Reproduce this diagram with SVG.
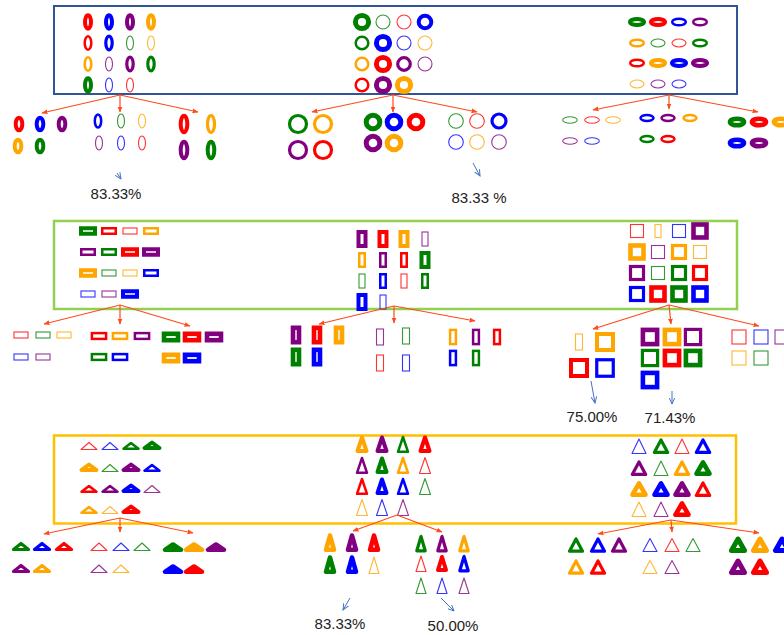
<svg xmlns="http://www.w3.org/2000/svg" width="784" height="635" viewBox="0 0 784 635">
<style>
ellipse,circle,rect,polygon{fill:none}
polygon{stroke-linejoin:round}
.R{stroke:#ff0000}.B{stroke:#0000ff}.P{stroke:#800080}.O{stroke:#ffa500}.G{stroke:#008000}
.a{stroke-width:1.1;stroke-opacity:.8}.b{stroke-width:2.5}.b3{stroke-width:3.2}.c{stroke-width:4}.d{stroke-width:4.6}.e{stroke-width:5}
.con{stroke:#ff4a1c;stroke-width:1.2;fill:none}
.blu{stroke:#4472c4;stroke-width:1;fill:none}
.lbl{font-family:"Liberation Sans",Arial,sans-serif;font-size:15px;fill:#222;text-anchor:middle}
</style>
<defs>
<marker id="ah" viewBox="0 0 10 10" refX="9" refY="5" markerWidth="5" markerHeight="5" orient="auto"><path d="M0,1 L10,5 L0,9 Z" fill="#ff4a1c"/></marker>
<marker id="bh" viewBox="0 0 10 10" refX="9" refY="5" markerWidth="7" markerHeight="7" orient="auto"><path d="M0,1 L9,5 L0,9" fill="none" stroke="#4472c4" stroke-width="1.4"/></marker>
</defs>

<!-- TOP BOX -->
<g id="box-top">
<rect x="54" y="6" width="683" height="88" fill="#fff" stroke="#2f5597" stroke-width="2"/>
<g id="top-ellipses">
<ellipse cx="88" cy="22" rx="3" ry="6.8" class="R c"/><ellipse cx="109" cy="22" rx="3" ry="6.8" class="B c"/><ellipse cx="130" cy="22" rx="3" ry="6.8" class="P c"/><ellipse cx="151" cy="22" rx="3" ry="6.8" class="O c"/>
<ellipse cx="88" cy="43" rx="3.3" ry="6.8" class="R b"/><ellipse cx="109" cy="43" rx="3.2" ry="6.8" class="B b3"/><ellipse cx="130" cy="43" rx="3.5" ry="7" class="G a"/><ellipse cx="151" cy="43" rx="3.5" ry="7" class="O a"/>
<ellipse cx="88" cy="64" rx="3.3" ry="6.8" class="O b"/><ellipse cx="109" cy="64" rx="3.5" ry="7" class="P a"/><ellipse cx="130" cy="64" rx="3.2" ry="6.8" class="P b3"/><ellipse cx="151" cy="64" rx="3.2" ry="6.8" class="G b3"/>
<ellipse cx="88" cy="85" rx="3" ry="6.8" class="G c"/><ellipse cx="109" cy="85" rx="3.5" ry="7" class="B a"/><ellipse cx="130" cy="85" rx="3.5" ry="7" class="R a"/>
</g>
<g id="top-circles">
<circle cx="362" cy="22" r="6.6" class="G e"/><circle cx="383" cy="22" r="7" class="G a"/><circle cx="404" cy="22" r="7" class="R a"/><circle cx="425" cy="22" r="6.3" class="B c"/>
<circle cx="362" cy="43" r="6.3" class="G b"/><circle cx="383" cy="43" r="6.6" class="B e"/><circle cx="404" cy="43" r="7" class="B a"/><circle cx="425" cy="43" r="7" class="O a"/>
<circle cx="362" cy="64" r="6.3" class="O b"/><circle cx="383" cy="64" r="6.6" class="R e"/><circle cx="404" cy="64" r="6.3" class="P b3"/><circle cx="425" cy="64" r="7" class="P a"/>
<circle cx="362" cy="85" r="6.3" class="R b"/><circle cx="383" cy="85" r="6.6" class="P e"/><circle cx="404" cy="85" r="6.6" class="O e"/>
</g>
<g id="top-flat-ellipses">
<ellipse cx="637" cy="22" rx="7" ry="3" class="G c"/><ellipse cx="658" cy="22" rx="7" ry="3" class="R c"/><ellipse cx="679" cy="22" rx="6.8" ry="3.3" class="B b"/><ellipse cx="700" cy="22" rx="6.8" ry="3.3" class="P b"/>
<ellipse cx="637" cy="43" rx="6.8" ry="3.3" class="O b"/><ellipse cx="658" cy="43" rx="7" ry="4" class="G a"/><ellipse cx="679" cy="43" rx="7" ry="4" class="R a"/><ellipse cx="700" cy="43" rx="6.8" ry="3.3" class="G b"/>
<ellipse cx="637" cy="63" rx="6.8" ry="3.3" class="R b"/><ellipse cx="658" cy="63" rx="7" ry="3" class="O c"/><ellipse cx="679" cy="63" rx="7" ry="3" class="B c"/><ellipse cx="700" cy="63" rx="7" ry="3" class="P c"/>
<ellipse cx="637" cy="84" rx="7" ry="4" class="O a"/><ellipse cx="658" cy="84" rx="7" ry="4" class="P a"/><ellipse cx="679" cy="84" rx="7" ry="4" class="B a"/>
</g>
</g>

<!-- below top -->
<g id="top-sub-1a">
<ellipse cx="19" cy="124" rx="3.3" ry="6.3" class="R c"/><ellipse cx="40" cy="124" rx="3.3" ry="6.3" class="B c"/><ellipse cx="62" cy="124" rx="3.3" ry="6.3" class="P c"/>
<ellipse cx="18" cy="146" rx="3.3" ry="6.3" class="O c"/><ellipse cx="40" cy="146" rx="3.3" ry="6.3" class="G c"/>
</g>
<g id="top-sub-1b">
<ellipse cx="98" cy="121" rx="3.2" ry="6.5" class="B b"/><ellipse cx="121" cy="121" rx="3.5" ry="7" class="G a"/><ellipse cx="142" cy="121" rx="3.5" ry="7" class="O a"/>
<ellipse cx="99" cy="143" rx="3.5" ry="7" class="P a"/><ellipse cx="121" cy="143" rx="3.5" ry="7" class="B a"/><ellipse cx="142" cy="143" rx="3.5" ry="7" class="R a"/>
</g>
<g id="top-sub-1c">
<ellipse cx="184" cy="124" rx="3.3" ry="8.3" class="R c"/><ellipse cx="211" cy="124" rx="3.5" ry="8.5" class="O b3"/>
<ellipse cx="184" cy="150" rx="3.3" ry="8.3" class="P c"/><ellipse cx="211" cy="150" rx="3.3" ry="8.3" class="G c"/>
</g>
<g id="top-sub-2a">
<circle cx="298" cy="124" r="8.5" class="G b3"/><circle cx="323" cy="124" r="8.5" class="O b3"/>
<circle cx="298" cy="150" r="8.5" class="P b3"/><circle cx="323" cy="150" r="8.5" class="R b3"/>
</g>
<g id="top-sub-2b">
<circle cx="373" cy="122" r="6.8" class="G e"/><circle cx="394" cy="122" r="6.8" class="B e"/><circle cx="416" cy="122" r="6.8" class="R e"/>
<circle cx="373" cy="143" r="6.8" class="P e"/><circle cx="394" cy="143" r="6.8" class="O e"/>
</g>
<g id="top-sub-2c">
<circle cx="456" cy="121" r="7.3" class="G a"/><circle cx="477" cy="121" r="7.3" class="R a"/><circle cx="499" cy="121" r="7" class="B b3"/>
<circle cx="456" cy="142" r="7.3" class="B a"/><circle cx="477" cy="142" r="7.3" class="O a"/><circle cx="499" cy="142" r="7.3" class="P a"/>
</g>
<g id="top-sub-3a">
<ellipse cx="570" cy="120" rx="7.3" ry="3.3" class="G a"/><ellipse cx="592" cy="120" rx="7.3" ry="3.3" class="R a"/><ellipse cx="613" cy="120" rx="7.3" ry="3.3" class="O a"/>
<ellipse cx="570" cy="141" rx="7.3" ry="3.3" class="P a"/><ellipse cx="592" cy="141" rx="7.3" ry="3.3" class="B a"/>
</g>
<g id="top-sub-3b">
<ellipse cx="647" cy="118" rx="6.5" ry="3" class="B b"/><ellipse cx="668" cy="118" rx="6.5" ry="3" class="P b"/><ellipse cx="690" cy="118" rx="6.5" ry="3" class="O b"/>
<ellipse cx="647" cy="139" rx="6.5" ry="3" class="G b"/><ellipse cx="668" cy="139" rx="6.5" ry="3" class="R b"/>
</g>
<g id="top-sub-3c">
<ellipse cx="737" cy="122" rx="7" ry="3.3" class="G d"/><ellipse cx="759" cy="122" rx="7" ry="3.3" class="R d"/><ellipse cx="781" cy="122" rx="7" ry="3.3" class="O d"/>
<ellipse cx="737" cy="143" rx="7" ry="3.3" class="B d"/><ellipse cx="759" cy="143" rx="7" ry="3.3" class="P d"/>
</g>

<!-- MIDDLE BOX -->
<g id="box-mid">
<rect x="54" y="221" width="683" height="88" fill="#fff" stroke="#92d050" stroke-width="2.5"/>
<g id="mid-hrects">
<rect x="81" y="228.25" width="14" height="5.5" class="G c"/><rect x="102.25" y="228.25" width="13.5" height="5.5" class="R b"/><rect x="123" y="228" width="14" height="6" class="R a"/><rect x="144.25" y="228.25" width="13.5" height="5.5" class="O b"/>
<rect x="81.25" y="249.25" width="13.5" height="5.5" class="P b"/><rect x="102.25" y="249.25" width="13.5" height="5.5" class="G b"/><rect x="123" y="249.25" width="14" height="5.5" class="R c"/><rect x="144" y="249.25" width="14" height="5.5" class="P c"/>
<rect x="81" y="270.25" width="14" height="5.5" class="O c"/><rect x="102" y="270" width="14" height="6" class="G a"/><rect x="123" y="270" width="14" height="6" class="O a"/><rect x="144.25" y="270.25" width="13.5" height="5.5" class="B b"/>
<rect x="81" y="291" width="14" height="6" class="B a"/><rect x="102" y="291" width="14" height="6" class="P a"/><rect x="123" y="291.25" width="14" height="5.5" class="B c"/>
</g>
<g id="mid-vrects">
<rect x="358.5" y="232" width="7" height="14" class="P c"/><rect x="379.5" y="232" width="7" height="14" class="R c"/><rect x="400.5" y="232" width="7" height="14" class="O c"/><rect x="422" y="232" width="6" height="14" class="P a"/>
<rect x="359.25" y="253.25" width="5.5" height="13.5" class="O b"/><rect x="380.25" y="253.25" width="5.5" height="13.5" class="P b"/><rect x="401.25" y="253.25" width="5.5" height="13.5" class="R b"/><rect x="421.5" y="253" width="7" height="14" class="G c"/>
<rect x="359" y="274" width="6" height="14" class="G a"/><rect x="380.25" y="274.25" width="5.5" height="13.5" class="B b"/><rect x="401" y="274" width="6" height="14" class="R a"/><rect x="422.25" y="274.25" width="5.5" height="13.5" class="G b"/>
<rect x="358.5" y="295" width="7" height="14" class="B c"/><rect x="380" y="295" width="6" height="14" class="B a"/>
</g>
<g id="mid-squares">
<rect x="630.5" y="224.5" width="13" height="13" class="R a"/><rect x="655" y="224.5" width="6" height="13" class="O a"/><rect x="672.5" y="224.5" width="13" height="13" class="B a"/><rect x="693.5" y="224.5" width="13" height="13" class="P d"/>
<rect x="630.5" y="245.5" width="13" height="13" class="O d"/><rect x="651.5" y="245.5" width="13" height="13" class="P a"/><rect x="672.5" y="245.5" width="13" height="13" class="O b3"/><rect x="693.5" y="245.5" width="13" height="13" class="O a"/>
<rect x="630.5" y="266.5" width="13" height="13" class="P b3"/><rect x="651.5" y="266.5" width="13" height="13" class="G a"/><rect x="672.5" y="266.5" width="13" height="13" class="G b3"/><rect x="693.5" y="266.5" width="13" height="13" class="R b3"/>
<rect x="630.5" y="287.5" width="13" height="13" class="B b3"/><rect x="651.5" y="287.5" width="13" height="13" class="R d"/><rect x="672.5" y="287.5" width="13" height="13" class="G d"/><rect x="693.5" y="287.5" width="13" height="13" class="B d"/>
</g>
</g>

<!-- below middle -->
<g id="mid-sub-1a">
<rect x="14" y="332" width="14" height="6" class="R a"/><rect x="36" y="332" width="14" height="6" class="G a"/><rect x="57" y="332" width="14" height="6" class="O a"/>
<rect x="14" y="354" width="14" height="6" class="B a"/><rect x="36" y="354" width="14" height="6" class="P a"/>
</g>
<g id="mid-sub-1b">
<rect x="91.9" y="333.1" width="14.2" height="5.8" class="R b"/><rect x="112.9" y="333.1" width="14.2" height="5.8" class="O b"/><rect x="134.9" y="333.1" width="14.2" height="5.8" class="P b"/>
<rect x="91.9" y="354.1" width="14.2" height="5.8" class="G b"/><rect x="112.9" y="354.1" width="14.2" height="5.8" class="B b"/>
</g>
<g id="mid-sub-1c">
<rect x="164" y="333.8" width="14" height="6.4" class="G d"/><rect x="185" y="333.8" width="14" height="6.4" class="R d"/><rect x="207" y="333.8" width="14" height="6.4" class="P d"/>
<rect x="164" y="354.8" width="14" height="6.4" class="O d"/><rect x="185" y="354.8" width="14" height="6.4" class="B d"/>
</g>
<g id="mid-sub-2a">
<rect x="293" y="327.8" width="6" height="14.4" class="P d"/><rect x="314" y="327.8" width="6" height="14.4" class="R d"/><rect x="336" y="327.8" width="6" height="14.4" class="O d"/>
<rect x="293" y="349.8" width="6" height="14.4" class="G d"/><rect x="314" y="349.8" width="6" height="14.4" class="B d"/>
</g>
<g id="mid-sub-2b">
<rect x="376.5" y="329" width="7" height="16" class="P a"/><rect x="402.5" y="328" width="7" height="16" class="G a"/>
<rect x="376.5" y="355" width="7" height="16" class="R a"/><rect x="402.5" y="355" width="7" height="16" class="B a"/>
</g>
<g id="mid-sub-2c">
<rect x="450.1" y="329.9" width="5.8" height="14.2" class="O b"/><rect x="473.1" y="329.9" width="5.8" height="14.2" class="P b"/><rect x="494.1" y="329.9" width="5.8" height="14.2" class="R b"/>
<rect x="450.1" y="350.9" width="5.8" height="14.2" class="B b"/><rect x="473.1" y="350.9" width="5.8" height="14.2" class="G b"/>
</g>
<g id="mid-sub-3a">
<rect x="575.5" y="334" width="7" height="16" class="O a"/><rect x="597" y="334" width="16" height="16" class="O c"/>
<rect x="571" y="360" width="16" height="16" class="R c"/><rect x="596.75" y="359.75" width="16.5" height="16.5" class="B b3"/>
</g>
<g id="mid-sub-3b">
<rect x="642.9" y="329.9" width="14.2" height="14.2" class="P d"/><rect x="664.9" y="329.9" width="14.2" height="14.2" class="O d"/><rect x="685.4" y="329.4" width="15.2" height="15.2" class="P b3"/>
<rect x="642.4" y="350.4" width="15.2" height="15.2" class="G b3"/><rect x="664.9" y="350.9" width="14.2" height="14.2" class="R d"/><rect x="685.9" y="350.9" width="14.2" height="14.2" class="G d"/>
<rect x="642.9" y="372.9" width="14.2" height="14.2" class="B d"/>
</g>
<g id="mid-sub-3c">
<rect x="732" y="330" width="14" height="14" class="R a"/><rect x="754" y="330" width="14" height="14" class="B a"/><rect x="775" y="330" width="14" height="14" class="P a"/>
<rect x="732" y="351" width="14" height="14" class="O a"/><rect x="754" y="351" width="14" height="14" class="G a"/>
</g>

<!-- BOTTOM BOX -->
<g id="box-bot">
<rect x="54" y="435.5" width="682" height="88" fill="#fff" stroke="#ffc000" stroke-width="2.5"/>
<g id="bot-flat-tri">
<polygon points="81,449.5 97,449.5 89,442.5" class="R a"/><polygon points="102,449.5 118,449.5 110,442.5" class="B a"/><polygon points="123.5,448.8 138.5,448.8 131,443" class="G b"/><polygon points="144.5,448 159.5,448 152,442.5" class="G c"/>
<polygon points="81.5,470 96.5,470 89,464.5" class="O c"/><polygon points="102,471.5 118,471.5 110,464.5" class="G a"/><polygon points="123.5,470 138.5,470 131,464.5" class="P c"/><polygon points="144.5,470.8 159.5,470.8 152,465" class="B b"/>
<polygon points="81.5,491.8 96.5,491.8 89,486" class="R b"/><polygon points="102.5,491.8 117.5,491.8 110,486" class="P b"/><polygon points="123.5,491 138.5,491 131,485.5" class="B c"/><polygon points="144,492.5 160,492.5 152,485.5" class="P a"/>
<polygon points="81.5,512.8 96.5,512.8 89,507" class="O b"/><polygon points="102,513.5 118,513.5 110,506.5" class="O a"/><polygon points="123.5,512 138.5,512 131,506.5" class="R c"/>
</g>
<g id="bot-tall-tri">
<polygon points="357.5,451 366.5,451 362,437.5" class="O c"/><polygon points="377.5,451 386.5,451 382,437.5" class="P c"/><polygon points="398,451.8 408,451.8 403,437" class="G b"/><polygon points="420.5,451 429.5,451 425,437.5" class="R c"/>
<polygon points="357,472.8 367,472.8 362,458" class="P b"/><polygon points="377.5,472 386.5,472 382,458.5" class="G c"/><polygon points="398,472.8 408,472.8 403,458" class="O b"/><polygon points="419.5,473.5 430.5,473.5 425,457.5" class="R a"/>
<polygon points="357,493.8 367,493.8 362,479" class="R b"/><polygon points="377.5,493 386.5,493 382,479.5" class="B c"/><polygon points="398,493.8 408,493.8 403,479" class="B b"/><polygon points="419.5,494.5 430.5,494.5 425,478.5" class="G a"/>
<polygon points="356.5,515.5 367.5,515.5 362,499.5" class="O a"/><polygon points="376.5,515.5 387.5,515.5 382,499.5" class="B a"/><polygon points="397.5,515.5 408.5,515.5 403,499.5" class="P a"/>
</g>
<g id="bot-eq-tri">
<polygon points="632,453.5 646,453.5 639,439" class="B a"/><polygon points="654.3,452.4 667.7,452.4 661,440" class="G b3"/><polygon points="675,453.5 689,453.5 682,439" class="R a"/><polygon points="696.3,452.4 709.7,452.4 703,440" class="B b3"/>
<polygon points="632.3,474.4 645.7,474.4 639,462" class="P b3"/><polygon points="654,475.5 668,475.5 661,461" class="G a"/><polygon points="675.3,474.4 688.7,474.4 682,462" class="O b3"/><polygon points="696.5,473.7 709.5,473.7 703,462.5" class="G d"/>
<polygon points="632.5,494.7 645.5,494.7 639,483.5" class="O d"/><polygon points="654.5,494.7 667.5,494.7 661,483.5" class="B d"/><polygon points="675.5,494.7 688.5,494.7 682,483.5" class="P d"/><polygon points="696.3,495.4 709.7,495.4 703,483" class="R b3"/>
<polygon points="632,516.5 646,516.5 639,502" class="O a"/><polygon points="654,516.5 668,516.5 661,502" class="P a"/><polygon points="675.5,514.7 688.5,514.7 682,503.5" class="R d"/>
</g>
</g>

<!-- below bottom -->
<g id="bot-sub-1a">
<polygon points="13.5,549.5 28.5,549.5 21,543.5" class="G b3"/><polygon points="34.5,549.5 49.5,549.5 42,543.5" class="B b3"/><polygon points="56.5,549.5 71.5,549.5 64,543.5" class="R b3"/>
<polygon points="13.5,571.5 28.5,571.5 21,565.5" class="P b3"/><polygon points="34.5,571.5 49.5,571.5 42,565.5" class="O b3"/>
</g>
<g id="bot-sub-1b">
<polygon points="91,550.5 107,550.5 99,543" class="R a"/><polygon points="113,550.5 129,550.5 121,543" class="B a"/><polygon points="134,550.5 150,550.5 142,543" class="G a"/>
<polygon points="91,572.5 107,572.5 99,565" class="P a"/><polygon points="113,572.5 129,572.5 121,565" class="O a"/>
</g>
<g id="bot-sub-1c">
<polygon points="165,549.8 181,549.8 173,544.5" class="G d"/><polygon points="186,549.8 202,549.8 194,544.5" class="O d"/><polygon points="208,549.8 224,549.8 216,544.5" class="P d"/>
<polygon points="165,571.8 181,571.8 173,566.5" class="B d"/><polygon points="186,571.8 202,571.8 194,566.5" class="R d"/>
</g>
<g id="bot-sub-2a">
<polygon points="326,549.8 334,549.8 330,535.5" class="O d"/><polygon points="348,549.8 356,549.8 352,535.5" class="P d"/><polygon points="370,549.8 378,549.8 374,535.5" class="R d"/>
<polygon points="326,571.8 334,571.8 330,557.5" class="G d"/><polygon points="348,571.8 356,571.8 352,557.5" class="B d"/><polygon points="369,573.5 379,573.5 374,557" class="O a"/>
</g>
<g id="bot-sub-2b">
<polygon points="416.8,550.8 425.2,550.8 421,536.5" class="G b3"/><polygon points="437.8,550.8 446.2,550.8 442,536.5" class="P b3"/><polygon points="459.8,550.8 468.2,550.8 464,536.5" class="O b3"/>
<polygon points="416,571.5 426,571.5 421,556" class="R a"/><polygon points="438,570 446,570 442,557" class="R c"/><polygon points="459.8,570.8 468.2,570.8 464,556.5" class="B b3"/>
<polygon points="416,593.5 426,593.5 421,578" class="G a"/><polygon points="437,593.5 447,593.5 442,578" class="B a"/><polygon points="459,593.5 469,593.5 464,578" class="P a"/>
</g>
<g id="bot-sub-3a">
<polygon points="569.5,551.2 582.5,551.2 576,539" class="G b3"/><polygon points="591.5,551.2 604.5,551.2 598,539" class="B b3"/><polygon points="612.5,551.2 625.5,551.2 619,539" class="P b3"/>
<polygon points="569.5,573.2 582.5,573.2 576,561" class="O b3"/><polygon points="591.5,573.2 604.5,573.2 598,561" class="R b3"/>
</g>
<g id="bot-sub-3b">
<polygon points="643,551.5 657,551.5 650,538.5" class="B a"/><polygon points="665,551.5 679,551.5 672,538.5" class="R a"/><polygon points="686,551.5 700,551.5 693,538.5" class="G a"/>
<polygon points="643,573.5 657,573.5 650,560.5" class="O a"/><polygon points="665,573.5 679,573.5 672,560.5" class="P a"/>
</g>
<g id="bot-sub-3c">
<polygon points="731.5,550.5 744.5,550.5 738,539" class="G e"/><polygon points="753.5,550.5 766.5,550.5 760,539" class="O e"/><polygon points="775.5,550.5 788.5,550.5 782,539" class="B e"/>
<polygon points="731.5,572.5 744.5,572.5 738,561" class="P e"/><polygon points="753.5,572.5 766.5,572.5 760,561" class="R e"/>
</g>

<!-- CONNECTORS -->
<g id="connectors">
<g class="con" marker-end="url(#ah)">
<line x1="120" y1="95" x2="42" y2="113"/><line x1="120" y1="95" x2="120" y2="112"/><line x1="120" y1="95" x2="198" y2="112"/>
<line x1="393" y1="95" x2="312" y2="112"/><line x1="393" y1="95" x2="393" y2="112"/><line x1="393" y1="95" x2="477" y2="112"/>
<line x1="669" y1="95" x2="593" y2="110"/><line x1="669" y1="95" x2="669" y2="109"/><line x1="669" y1="95" x2="758" y2="112"/>
<line x1="120" y1="305" x2="44" y2="324"/><line x1="120" y1="305" x2="120" y2="324"/><line x1="120" y1="305" x2="190" y2="326"/>
<line x1="394" y1="306" x2="319" y2="324"/><line x1="394" y1="306" x2="394" y2="323"/><line x1="394" y1="306" x2="475" y2="321"/>
<line x1="669" y1="305" x2="593" y2="329"/><line x1="669" y1="305" x2="671" y2="324"/><line x1="669" y1="305" x2="759" y2="326"/>
<line x1="120" y1="518" x2="44" y2="534"/><line x1="120" y1="518" x2="120" y2="532"/><line x1="120" y1="518" x2="193" y2="533"/>
<line x1="397" y1="515" x2="353" y2="531"/><line x1="397" y1="515" x2="442" y2="532"/>
<line x1="671" y1="520" x2="598" y2="534"/><line x1="671" y1="520" x2="672" y2="532"/><line x1="671" y1="520" x2="759" y2="533"/>
</g>
<g class="blu" marker-end="url(#bh)">
<line x1="117" y1="173" x2="121" y2="179"/>
<line x1="473" y1="163" x2="480" y2="176"/>
<line x1="591" y1="381" x2="595" y2="403"/>
<line x1="672" y1="391" x2="672" y2="404"/>
<line x1="350" y1="598" x2="343" y2="610"/>
<line x1="441" y1="598" x2="454" y2="611"/>
</g>
</g>

<!-- LABELS -->
<g id="labels">
<text x="116" y="198.5" class="lbl">83.33%</text>
<text x="479" y="202.5" class="lbl">83.33 %</text>
<text x="592" y="421.5" class="lbl">75.00%</text>
<text x="670" y="422.5" class="lbl">71.43%</text>
<text x="340" y="628.5" class="lbl">83.33%</text>
<text x="453" y="630.5" class="lbl">50.00%</text>
</g>
</svg>
